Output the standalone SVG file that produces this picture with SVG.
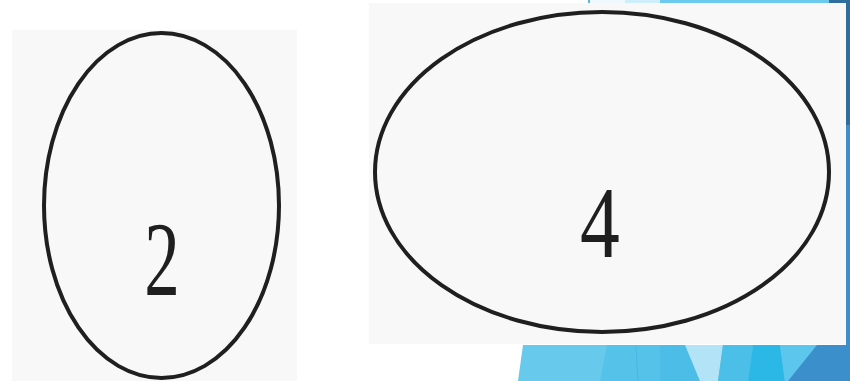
<svg xmlns="http://www.w3.org/2000/svg" width="850" height="381" viewBox="0 0 850 381">
  <style>
    .scan { fill: #f8f8f8; }
    .oval { fill: none; stroke: #1f1f1f; stroke-width: 4; }
    .num { font-family: "Liberation Serif", "Times New Roman", serif; fill: #1f1f1f; text-anchor: middle; }
  </style>
  <rect x="0" y="0" width="850" height="381" fill="#ffffff"/>
  <g id="decor-top">
    <rect x="588" y="0" width="2" height="3" fill="#5ab8e0"/>
    <rect x="590" y="0" width="35" height="3" fill="#eef8fd"/>
    <rect x="625" y="0" width="35" height="3" fill="#cdeefa"/>
    <rect x="660" y="0" width="169" height="3" fill="#6cc9ee"/>
    <rect x="829" y="0" width="21" height="3" fill="#2f6e9f"/>
    <rect x="846" y="0" width="4" height="125" fill="#2f6d9d"/>
    <rect x="846" y="125" width="4" height="220" fill="#3d8fcb"/>
  </g>
  <g id="decor-bottom">
    <polygon points="523,345 850,345 850,381 518,381" fill="#67c9ec"/>
    <polygon points="607,345 685,345 700,381 600,381" fill="#55c2e9"/>
    <line x1="636" y1="345" x2="638" y2="381" stroke="#45b9e3" stroke-width="1"/>
    <polygon points="660,345 685,345 700,381 660,381" fill="#4bbde7"/>
    <polygon points="685,345 723,345 718,381 700,381" fill="#b2e3f6"/>
    <polygon points="723,345 753,345 748,381 718,381" fill="#4bbfe7"/>
    <polygon points="753,345 780,345 785,381 748,381" fill="#2cb8e6"/>
    <polygon points="780,345 817,345 788,381 785,381" fill="#5dc6ec"/>
    <polygon points="817,345 850,345 850,381 788,381" fill="#3b8fcb"/>
  </g>
  <g id="node-2">
    <rect class="scan" x="12" y="30" width="285" height="351"/>
    <ellipse class="oval" cx="161.5" cy="205.5" rx="117.5" ry="172.5"/>
    <text class="num" font-size="106" transform="translate(162,295) scale(0.67,1)">2</text>
  </g>
  <g id="node-4">
    <rect class="scan" x="369" y="3" width="477" height="341"/>
    <ellipse class="oval" cx="602" cy="172" rx="227" ry="160"/>
    <text class="num" font-size="102" transform="translate(600,257) scale(0.78,1)">4</text>
  </g>
  <g id="connectors"/>
</svg>
